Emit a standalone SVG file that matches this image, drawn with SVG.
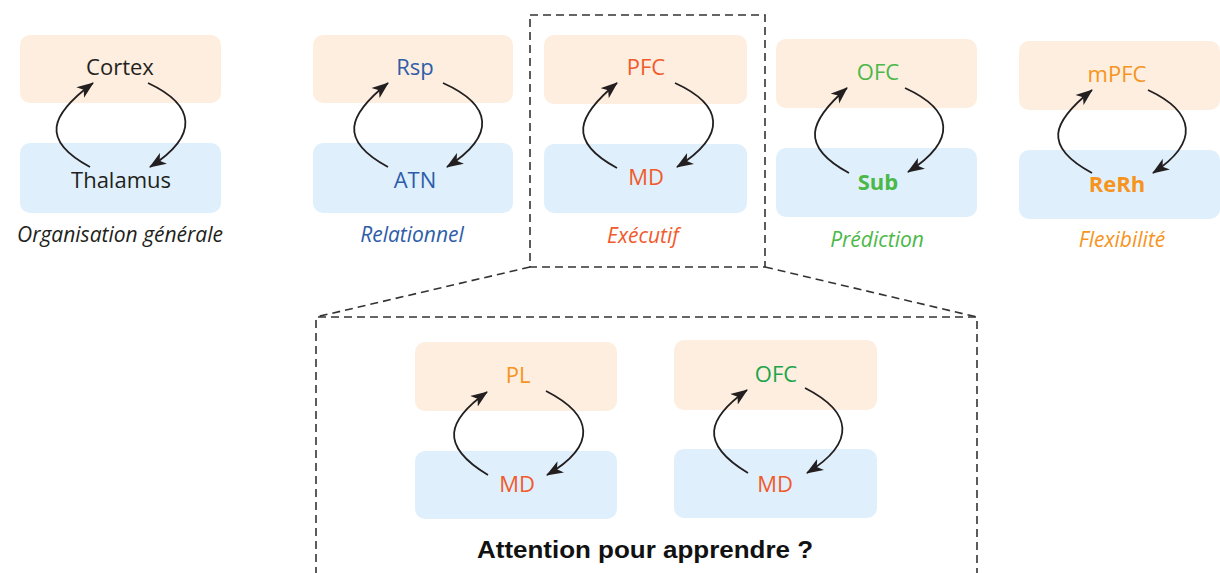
<svg xmlns="http://www.w3.org/2000/svg" width="1220" height="573" viewBox="0 0 1220 573">
<style>
.ctx{fill:#FDEEDF}
.thl{fill:#DFF0FC}
.lbl{font-family:"Open Sans","Noto Sans",sans-serif;font-size:22px;text-anchor:middle}
.b{font-weight:bold}
.cap{font-family:"Open Sans","Noto Sans",sans-serif;font-size:21px;font-style:italic;text-anchor:middle}
.arr{fill:none;stroke:#231F20;stroke-width:1.8;marker-end:url(#ah)}
.dash{fill:none;stroke:#333;stroke-width:1.6;stroke-dasharray:8 5}
.k{fill:#231F20}.bl{fill:#2E5DAA}.rd{fill:#F15A2B}.gr{fill:#4CB848}.gr2{fill:#1AA54B}.or{fill:#F7941D}
</style>
<defs>
<marker id="ah" markerUnits="userSpaceOnUse" markerWidth="18" markerHeight="14" refX="16" refY="7" orient="auto">
<path d="M0,0.5 L17,7 L0,13.5 L4.5,7 Z" fill="#231F20"/>
</marker>
</defs>

<g id="panel-general">
<rect class="ctx" x="20" y="35" width="201" height="68" rx="10"/>
<rect class="thl" x="20" y="143" width="201" height="70" rx="10"/>
<text class="lbl k" x="120" y="75">Cortex</text>
<text class="lbl k" x="121" y="188">Thalamus</text>
<text class="cap k" x="120" y="242">Organisation générale</text>
</g>

<g id="panel-relationnel">
<rect class="ctx" x="313" y="35" width="200" height="68" rx="10"/>
<rect class="thl" x="313" y="143" width="200" height="70" rx="10"/>
<text class="lbl bl" x="415" y="75">Rsp</text>
<text class="lbl bl" x="415" y="188">ATN</text>
<text class="cap bl" x="412" y="242">Relationnel</text>
</g>

<g id="panel-executif">
<rect class="ctx" x="544" y="35" width="203" height="69" rx="10"/>
<rect class="thl" x="544" y="144" width="203" height="69" rx="10"/>
<text class="lbl rd" x="646" y="75">PFC</text>
<text class="lbl rd" x="646" y="185">MD</text>
<text class="cap rd" x="643" y="243">Exécutif</text>
</g>

<g id="panel-prediction">
<rect class="ctx" x="776" y="39" width="201" height="69" rx="10"/>
<rect class="thl" x="776" y="148" width="201" height="69" rx="10"/>
<text class="lbl gr" x="878" y="80">OFC</text>
<text class="lbl gr b" x="878" y="190">Sub</text>
<text class="cap gr" x="877" y="247">Prédiction</text>
</g>

<g id="panel-flexibilite">
<rect class="ctx" x="1019" y="41" width="201" height="69" rx="10"/>
<rect class="thl" x="1019" y="150" width="201" height="69" rx="10"/>
<text class="lbl or" x="1117" y="82">mPFC</text>
<text class="lbl or b" x="1117" y="192">ReRh</text>
<text class="cap or" x="1122" y="247">Flexibilité</text>
</g>

<g id="panel-pl-md">
<rect class="ctx" x="415" y="342" width="202" height="69" rx="10"/>
<rect class="thl" x="415" y="451" width="202" height="68" rx="10"/>
<text class="lbl or" x="518" y="383">PL</text>
<text class="lbl rd" x="517" y="492">MD</text>
</g>

<g id="panel-ofc-md">
<rect class="ctx" x="674" y="340" width="203" height="70" rx="10"/>
<rect class="thl" x="674" y="449" width="203" height="69" rx="10"/>
<text class="lbl gr2" x="776" y="382">OFC</text>
<text class="lbl rd" x="775" y="492">MD</text>
</g>

<g id="zoom-frame">
<rect class="dash" x="530" y="15" width="235" height="252"/>
<path class="dash" d="M530,267 L316,317"/>
<path class="dash" d="M765,267 L977,317"/>
<path class="dash" d="M316,575 V317 H977 V575"/>
<text x="645" y="558" font-family="'Liberation Sans',Arial,sans-serif" font-size="24" font-weight="bold" text-anchor="middle" fill="#111" textLength="336" lengthAdjust="spacingAndGlyphs">Attention pour apprendre ?</text>
</g>

<g id="connectors">
<path class="arr" d="M90,167 C40,140 50,115 93,83"/>
<path class="arr" d="M148,83 C195,105 200,135 150,167"/>

<path class="arr" d="M388,167 C338,140 348,115 388,83"/>
<path class="arr" d="M443,83 C492,105 497,135 447,167"/>

<path class="arr" d="M617,168 C567,141 577,116 617,83"/>
<path class="arr" d="M675,83 C723,105 728,135 677,167"/>

<path class="arr" d="M849,173 C799,146 809,121 847,88"/>
<path class="arr" d="M905,88 C953,110 958,140 908,172"/>

<path class="arr" d="M1092,173 C1042,146 1052,122 1092,90"/>
<path class="arr" d="M1148,90 C1195,112 1200,142 1153,173"/>

<path class="arr" d="M488,475 C438,445 448,420 487,392"/>
<path class="arr" d="M546,391 C593,415 598,445 547,475"/>

<path class="arr" d="M748,473 C698,443 708,418 747,390"/>
<path class="arr" d="M805,388 C852,412 857,442 807,473"/>
</g>
</svg>
